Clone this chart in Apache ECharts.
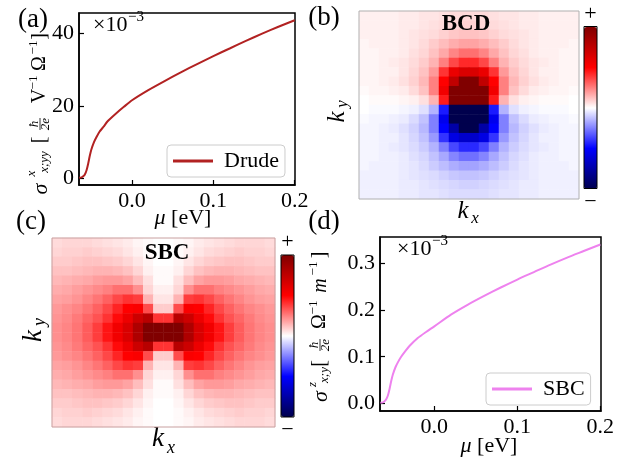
<!DOCTYPE html>
<html lang="en">
<head>
<meta charset="UTF-8">
<title>Drude / BCD / SBC</title>
<script src="https://cdn.jsdelivr.net/npm/echarts@6/dist/echarts.min.js"></script>
<style>
    html, body { margin: 0; padding: 0; background: #fff; }
    #main { width: 626px; height: 466px; }
</style>
</head>
<body>
<div id="main"></div>
<script>
// chemical potential grid [eV]
var mu = [-0.065, -0.062, -0.060, -0.058, -0.056, -0.054, -0.052, -0.050, -0.047, -0.044, -0.040, -0.035, -0.030,
          -0.020, -0.010, 0.0, 0.02, 0.04, 0.06, 0.08, 0.10, 0.12, 0.14, 0.16, 0.18, 0.20];
// (a) Drude, x1e-3
var drude = [0.2, 0.3, 0.6, 1.1, 2.2, 4.0, 6.2, 8.0, 9.9, 11.3, 12.9, 14.3, 15.8,
             17.9, 19.8, 21.6, 24.4, 26.9, 29.3, 31.6, 33.8, 35.9, 38.0, 40.0, 41.9, 43.7];
// (d) SBC, x1e-3
var sbc = [0.0015, 0.0025, 0.005, 0.009, 0.017, 0.031, 0.048, 0.062, 0.077, 0.088, 0.100, 0.112, 0.123,
           0.140, 0.153, 0.165, 0.190, 0.211, 0.230, 0.248, 0.265, 0.281, 0.297, 0.312, 0.326, 0.340];
var muTicks = [0, 0.1, 0.2];
var drudeTicks = [0, 20, 40];
var sbcTicks = [0, 0.1, 0.2, 0.3];

// (b) BCD map, rows top (+ky) to bottom (-ky), percent of colour scale
var bcdRows = [
    [3,3,3,3,4,4,5,5,6,7,7,7,7,6,5,5,4,4,3,3,3,3],
    [3,3,3,3,4,4,5,6,7,8,9,9,8,7,6,5,4,4,3,3,3,3],
    [3,3,3,3,4,5,6,7,9,11,12,12,11,9,7,6,5,4,3,3,3,3],
    [2,3,3,3,4,5,7,10,13,16,18,18,16,13,10,7,5,4,3,3,3,2],
    [2,2,3,3,4,6,8,12,17,24,28,28,24,17,12,8,6,4,3,3,2,2],
    [2,2,3,4,5,7,10,15,25,36,42,42,36,25,15,10,7,5,4,3,2,2],
    [2,2,3,3,5,8,12,20,40,58,65,65,58,40,20,12,8,5,3,3,2,2],
    [2,2,3,4,6,9,14,25,50,75,100,100,75,50,25,14,9,6,4,3,2,2],
    [1,2,2,3,4,7,12,25,55,100,100,100,100,55,25,12,7,4,3,2,2,1],
    [0,1,1,1,2,3,6,15,45,100,100,100,100,45,15,6,3,2,1,1,1,0],
    [0,-1,-1,-1,-2,-3,-6,-15,-45,-100,-100,-100,-100,-45,-15,-6,-3,-2,-1,-1,-1,0],
    [-1,-2,-2,-3,-4,-7,-12,-25,-55,-100,-100,-100,-100,-55,-25,-12,-7,-4,-3,-2,-2,-1],
    [-2,-2,-3,-4,-6,-9,-14,-25,-50,-75,-100,-100,-75,-50,-25,-14,-9,-6,-4,-3,-2,-2],
    [-2,-2,-3,-3,-5,-8,-12,-20,-40,-58,-65,-65,-58,-40,-20,-12,-8,-5,-3,-3,-2,-2],
    [-2,-2,-3,-4,-5,-7,-10,-15,-25,-36,-42,-42,-36,-25,-15,-10,-7,-5,-4,-3,-2,-2],
    [-2,-2,-3,-3,-4,-6,-8,-12,-17,-24,-28,-28,-24,-17,-12,-8,-6,-4,-3,-3,-2,-2],
    [-2,-3,-3,-3,-4,-5,-7,-10,-13,-16,-18,-18,-16,-13,-10,-7,-5,-4,-3,-3,-3,-2],
    [-3,-3,-3,-3,-4,-5,-6,-7,-9,-11,-12,-12,-11,-9,-7,-6,-5,-4,-3,-3,-3,-3],
    [-3,-3,-3,-3,-4,-4,-5,-6,-7,-8,-9,-9,-8,-7,-6,-5,-4,-4,-3,-3,-3,-3],
    [-3,-3,-3,-3,-4,-4,-5,-5,-6,-7,-7,-7,-7,-6,-5,-5,-4,-4,-3,-3,-3,-3]
];
// (c) SBC map, same layout
var sbcRows = [
    [7,8,8,8,7,6,5,4,2,1,0,0,1,2,4,5,6,7,8,8,8,7],
    [8,9,9,10,9,8,7,5,3,1,0,0,1,3,5,7,8,9,10,9,9,8],
    [10,10,11,12,12,11,10,8,5,2,0,0,2,5,8,10,11,12,12,11,10,10],
    [12,12,13,14,15,15,14,12,8,3,1,1,3,8,12,14,15,15,14,13,12,12],
    [14,15,16,17,19,20,20,18,13,6,1,1,6,13,18,20,20,19,17,16,15,14],
    [16,17,19,21,23,25,28,28,22,8,3,3,8,22,28,28,25,23,21,19,17,16],
    [18,19,21,24,27,31,36,40,38,15,5,5,15,38,40,36,31,27,24,21,19,18],
    [20,22,24,27,31,36,43,50,52,35,10,10,35,52,50,43,36,31,27,24,22,20],
    [21,23,26,30,34,40,48,57,70,78,40,40,78,70,57,48,40,34,30,26,23,21],
    [22,24,27,32,38,46,55,65,82,100,100,100,100,82,65,55,46,38,32,27,24,22],
    [22,24,27,32,38,46,55,65,82,100,100,100,100,82,65,55,46,38,32,27,24,22],
    [21,23,26,30,34,40,48,57,70,78,40,40,78,70,57,48,40,34,30,26,23,21],
    [20,22,24,27,31,36,43,50,52,35,10,10,35,52,50,43,36,31,27,24,22,20],
    [18,19,21,24,27,31,36,40,38,15,5,5,15,38,40,36,31,27,24,21,19,18],
    [16,17,19,21,23,25,28,28,22,8,3,3,8,22,28,28,25,23,21,19,17,16],
    [14,15,16,17,19,20,20,18,13,6,1,1,6,13,18,20,20,19,17,16,15,14],
    [12,12,13,14,15,15,14,12,8,3,1,1,3,8,12,14,15,15,14,13,12,12],
    [10,10,11,12,12,11,10,8,5,2,0,0,2,5,8,10,11,12,12,11,10,10],
    [8,9,9,10,9,8,7,5,3,1,0,0,1,3,5,7,8,9,10,9,9,8],
    [7,8,8,8,7,6,5,4,2,1,0,0,1,2,4,5,6,7,8,8,8,7]
];

var serif = "'Liberation Serif', 'DejaVu Serif', serif";
var seismic = ['#00004d', '#0000ff', '#ffffff', '#ff0000', '#800000'];

function pairs(xs, ys) {
    return xs.map(function (x, i) { return [x, ys[i]]; });
}
function cells(rows) {
    var out = [];
    for (var r = 0; r < rows.length; r++)
        for (var c = 0; c < rows[r].length; c++)
            out.push([c, rows.length - 1 - r, rows[r][c]]);
    return out;
}
function range(n) { var a = []; for (var i = 0; i < n; i++) a.push(i); return a; }

function t(x, y, s, size, extra) {
    var st = {text: s, fontSize: size, fontFamily: serif, fill: '#000', align: 'center', verticalAlign: 'middle'};
    for (var k in extra) st[k] = extra[k];
    return {type: 'text', x: x, y: y, z: 100, silent: true, style: st};
}
function it(x, y, s, size) { return t(x, y, s, size, {fontStyle: 'italic'}); }
function bar(x1, x2, y) {
    return {type: 'line', z: 100, silent: true, shape: {x1: x1, y1: y, x2: x2, y2: y}, style: {stroke: '#000', lineWidth: 0.8}};
}
function frame(x, y, w, h, col) {
    return {type: 'rect', z: 100, silent: true, shape: {x: x, y: y, width: w, height: h},
        style: {fill: 'none', stroke: col, lineWidth: 1}};
}

function valAxis(grid, min, max, ticks, fmt) {
    return {
        type: 'value', gridIndex: grid, min: min, max: max,
        axisLine: {show: true, onZero: false, lineStyle: {color: '#000', width: 1.5}},
        splitLine: {show: false},
        axisTick: {show: true, inside: true, length: 5, customValues: ticks, lineStyle: {color: '#000', width: 1.2}},
        axisLabel: {customValues: ticks, formatter: fmt, color: '#000', fontSize: 22, fontFamily: serif, margin: 5}
    };
}
function catAxis(grid, n) {
    return {type: 'category', gridIndex: grid, data: range(n), show: false};
}

var chart = echarts.init(document.getElementById('main'));

var lineGrid = {show: true, borderColor: '#000', borderWidth: 1.5};
var legendBase = {
    icon: 'rect', itemWidth: 40, itemHeight: 3, orient: 'vertical',
    backgroundColor: 'rgba(255,255,255,0.8)', borderColor: '#cccccc', borderWidth: 1, borderRadius: 4,
    textStyle: {fontSize: 22, fontFamily: serif, color: '#000', padding: [0, 0, 0, 6]}
};

var option = {
    animation: false,
    grid: [
        Object.assign({left: 79, top: 13, width: 216, height: 172}, lineGrid),
        {left: 359, top: 11, width: 220, height: 188},
        {left: 52, top: 238, width: 223, height: 189},
        Object.assign({left: 380, top: 237, width: 221, height: 174}, lineGrid)
    ],
    xAxis: [
        valAxis(0, -0.0652, 0.2004, muTicks, function (v) { return v.toFixed(1); }),
        catAxis(1, bcdRows[0].length),
        catAxis(2, sbcRows[0].length),
        valAxis(3, -0.0655, 0.2008, muTicks, function (v) { return v.toFixed(1); })
    ],
    yAxis: [
        valAxis(0, -1.8, 45.7, drudeTicks, function (v) { return String(v); }),
        catAxis(1, bcdRows.length),
        catAxis(2, sbcRows.length),
        valAxis(3, -0.016, 0.356, sbcTicks, function (v) { return v.toFixed(1); })
    ],
    legend: [
        Object.assign({data: ['Drude'], left: 167, top: 145, padding: [5, 6, 5, 6]}, legendBase),
        Object.assign({data: ['SBC'], left: 486, top: 373, padding: [5, 6, 5, 6]}, legendBase)
    ],
    visualMap: [
        {type: 'continuous', seriesIndex: 2, min: -100, max: 100, calculable: false, show: true,
         inRange: {color: seismic}, itemWidth: 13, itemHeight: 162, left: 584, top: 3, padding: 0,
         text: ['+', '\u2212'], textGap: 2, textStyle: {fontSize: 22, fontFamily: serif, color: '#000'}},
        {type: 'continuous', seriesIndex: 3, min: -100, max: 100, calculable: false, show: true,
         inRange: {color: seismic}, itemWidth: 13, itemHeight: 162, left: 281, top: 231, padding: 0,
         text: ['+', '\u2212'], textGap: 2, textStyle: {fontSize: 22, fontFamily: serif, color: '#000'}}
    ],
    series: [
        {name: 'Drude', type: 'line', xAxisIndex: 0, yAxisIndex: 0, data: pairs(mu, drude),
         showSymbol: false, smooth: 0.25, lineStyle: {color: '#b22222', width: 2},
         itemStyle: {color: '#b22222'}},
        {name: 'SBC', type: 'line', xAxisIndex: 3, yAxisIndex: 3, data: pairs(mu, sbc),
         showSymbol: false, smooth: 0.25, lineStyle: {color: '#ee82ee', width: 2},
         itemStyle: {color: '#ee82ee'}},
        {type: 'heatmap', xAxisIndex: 1, yAxisIndex: 1, data: cells(bcdRows), emphasis: {disabled: true}},
        {type: 'heatmap', xAxisIndex: 2, yAxisIndex: 2, data: cells(sbcRows), emphasis: {disabled: true}}
    ],
    graphic: [
        // panel letters
        t(33, 20, '(a)', 27), t(324, 18, '(b)', 27), t(31, 222, '(c)', 27), t(324, 222, '(d)', 27),
        // offset texts
        t(93, 25, '\u00d710', 22, {align: 'left'}), t(128, 17, '\u22123', 15, {align: 'left'}),
        t(397, 249, '\u00d710', 22, {align: 'left'}), t(432, 241, '\u22123', 15, {align: 'left'}),
        // x labels
        t(183, 218, '{i|\u03bc} [eV]', 22, {rich: {i: {fontStyle: 'italic', fontSize: 22, fontFamily: serif}}}),
        t(489, 446, '{i|\u03bc} [eV]', 22, {rich: {i: {fontStyle: 'italic', fontSize: 22, fontFamily: serif}}}),
        // heat map titles and k labels
        t(466, 24, 'BCD', 23, {fontWeight: 'bold'}),
        t(167, 253, 'SBC', 23, {fontWeight: 'bold'}),
        it(463, 211, 'k', 25), it(475, 219, 'x', 17),
        it(158, 439, 'k', 27), it(171, 448, 'x', 18),
        {type: 'group', x: 337, y: 111, rotation: Math.PI / 2, children: [it(-6, 0, 'k', 25), it(7, 6, 'y', 17)]},
        {type: 'group', x: 34, y: 330, rotation: Math.PI / 2, children: [it(-6, 0, 'k', 27), it(8, 6, 'y', 18)]},
        // y label (a)
        {type: 'group', x: 40, y: 115, rotation: Math.PI / 2, children: [
            it(-74, 1, '\u03c3', 22), it(-58.5, -8.5, 'x', 13), it(-47, 5, 'x;yy', 13),
            t(-25, 0, '[', 20),
            it(-9, -5.5, '\u0127', 13), bar(-15, -3, 0), it(-9, 6, '2e', 13),
            t(19, 0, 'V', 20), t(32.5, -6, '\u22121', 13),
            t(51.5, 0, '\u03a9', 20), t(67.5, -6, '\u22121', 13),
            t(78.5, 0, ']', 20)
        ]},
        // y label (d)
        {type: 'group', x: 320, y: 330, rotation: Math.PI / 2, children: [
            it(-66.5, 1, '\u03c3', 22), it(-54.5, -7.5, 'z', 13), it(-45, 5, 'x;y', 13),
            t(-33.5, 0, '[', 20),
            it(-15, -5.5, '\u0127', 13), bar(-21, -9, 0), it(-15, 6, '2e', 13),
            t(8.5, 0, '\u03a9', 20), t(22.5, -6, '\u22121', 13),
            it(44.5, 1, 'm', 20), t(61.5, -6, '\u22121', 13),
            t(75, 0, ']', 20)
        ]},
        // frames
        frame(359, 11, 220, 188, '#b0b0b0'),
        frame(52, 238, 223, 189, '#c8a0a0'),
        frame(584, 26.5, 13, 162, '#000'),
        frame(281, 255, 13, 162, '#000')
    ]
};
chart.setOption(option);
</script>
</body>
</html>
